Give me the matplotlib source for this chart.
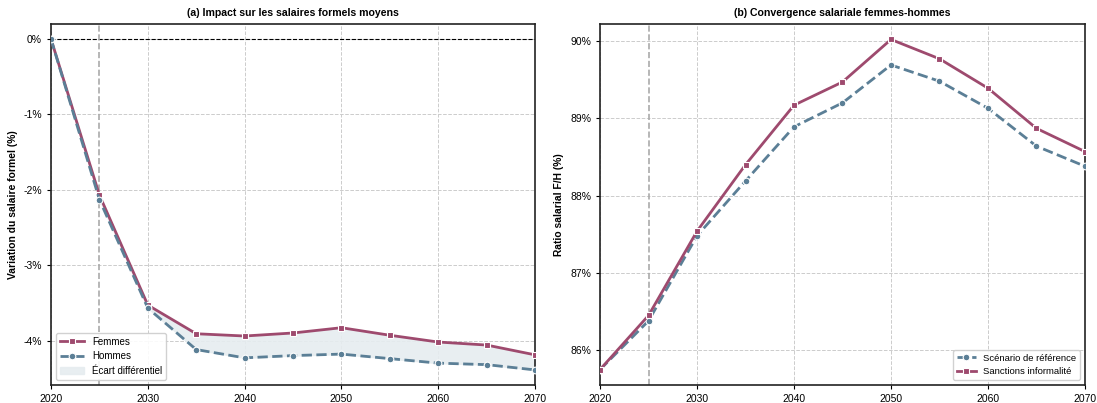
import numpy as np
import matplotlib.pyplot as plt
from matplotlib.ticker import FuncFormatter

plt.rcParams['font.family'] = ['Liberation Sans', 'DejaVu Sans']
plt.rcParams['font.size'] = 7.5

annees = [2020, 2025, 2030, 2035, 2040, 2045, 2050, 2055, 2060, 2065, 2070]

# (a) variation du salaire formel (%)
femmes = [0.0, -2.07, -3.53, -3.91, -3.94, -3.90, -3.83, -3.93, -4.02, -4.06, -4.19]
hommes = [0.0, -2.13, -3.57, -4.12, -4.23, -4.20, -4.18, -4.24, -4.30, -4.32, -4.39]

# (b) ratio salarial F/H (%)
reference = [85.75, 86.38, 87.48, 88.19, 88.89, 89.20, 89.69, 89.48, 89.13, 88.64, 88.38]
sanctions = [85.75, 86.45, 87.54, 88.40, 89.17, 89.47, 90.02, 89.77, 89.39, 88.87, 88.57]

c_f = '#9e4a6e'
c_h = '#5b7f96'
c_fill = '#e6edf0'

fig = plt.figure(figsize=(10.97, 4.03), dpi=100)
ax1 = fig.add_axes([0.0465, 0.0447, 0.4412, 0.8957])
ax2 = fig.add_axes([0.5470, 0.0447, 0.4420, 0.8957])

# --- panneau (a)
ax1.fill_between(annees, femmes, hommes, color=c_fill, alpha=0.9, label='Écart différentiel', zorder=1)
ax1.plot(annees, femmes, color=c_f, lw=2, marker='s', ms=4.8, mec='white', mew=0.8,
         label='Femmes', zorder=3)
ax1.plot(annees, hommes, color=c_h, lw=2, ls='--', marker='o', ms=4.8, mec='white', mew=0.8,
         label='Hommes', zorder=3)
ax1.axhline(0, color='black', lw=0.8, ls='--', zorder=2)
ax1.axvline(2025, color='#aaaaaa', lw=1.2, ls='--', zorder=2)
ax1.set_xlim(2020, 2070)
ax1.set_ylim(min(hommes) - 0.2, max(femmes) + 0.2)
ax1.set_yticks([0, -1, -2, -3, -4])
ax1.yaxis.set_major_formatter(FuncFormatter(lambda v, p: f'{v:.0f}%'))
ax1.set_ylabel('Variation du salaire formel (%)', fontweight='bold', fontsize=7.4, labelpad=4)
ax1.set_title('(a) Impact sur les salaires formels moyens', fontweight='bold', fontsize=7.6, pad=6)
h, l = ax1.get_legend_handles_labels()
ax1.legend([h[1], h[2], h[0]], [l[1], l[2], l[0]], loc='lower left', fontsize=7,
           framealpha=0.9, handlelength=2.5)

# --- panneau (b)
ax2.plot(annees, reference, color=c_h, lw=2, ls='--', marker='o', ms=4.8, mec='white', mew=0.8,
         label='Scénario de référence', zorder=3)
ax2.plot(annees, sanctions, color=c_f, lw=2, marker='s', ms=4.8, mec='white', mew=0.8,
         label='Sanctions informalité', zorder=3)
ax2.axvline(2025, color='#aaaaaa', lw=1.2, ls='--', zorder=2)
ax2.set_xlim(2020, 2070)
ax2.set_ylim(min(reference) - 0.2, max(sanctions) + 0.2)
ax2.set_yticks([86, 87, 88, 89, 90])
ax2.yaxis.set_major_formatter(FuncFormatter(lambda v, p: f'{v:.0f}%'))
ax2.set_ylabel('Ratio salarial F/H (%)', fontweight='bold', fontsize=7.4, labelpad=4)
ax2.set_title('(b) Convergence salariale femmes-hommes', fontweight='bold', fontsize=7.6, pad=6)
ax2.legend(loc='lower right', fontsize=6.8, framealpha=0.9)

for ax in (ax1, ax2):
    ax.set_xticks([2020, 2030, 2040, 2050, 2060, 2070])
    ax.grid(True, ls='--', color='#cccccc', lw=0.7, zorder=0)
    ax.set_axisbelow(True)
    for s in ax.spines.values():
        s.set_linewidth(1.2)
        s.set_color('#222222')
    ax.tick_params(length=3, width=0.8)

fig.savefig('out.png', dpi=100)
